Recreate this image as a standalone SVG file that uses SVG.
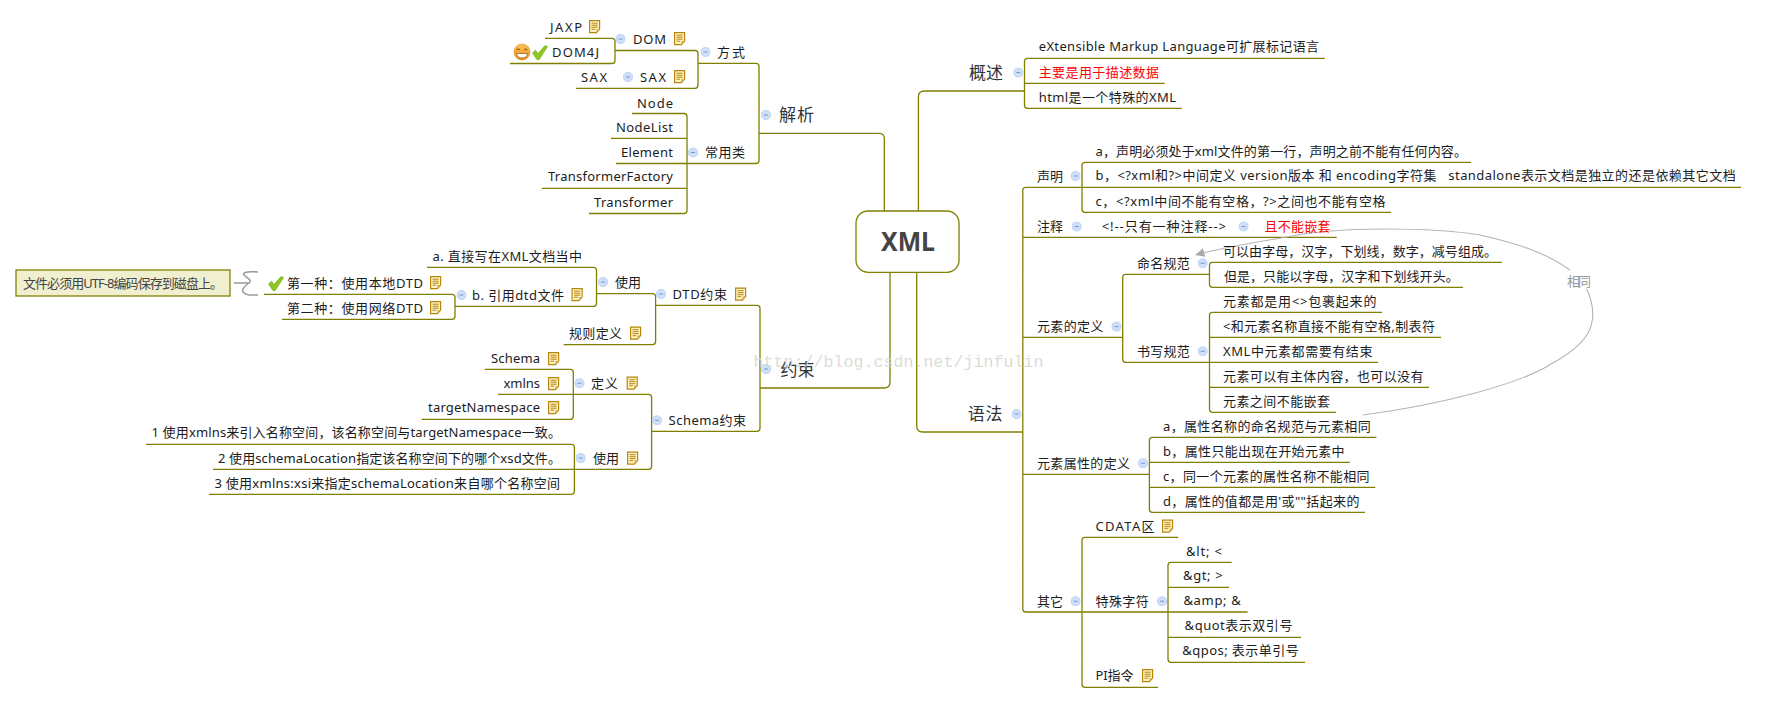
<svg xmlns="http://www.w3.org/2000/svg" width="1779" height="703" viewBox="0 0 1779 703">
<style>
text{font-family:"Noto Sans","Noto Sans CJK SC",sans-serif;font-size:13px;fill:#1c1c1c}
.b{font-size:17px;fill:#333}
.r{fill:#f00}
.root{font-size:27px;font-weight:bold;fill:#444}
.mark{font-family:"Liberation Mono",monospace;font-size:16.5px;fill:#d6d6d0;fill-opacity:.85}
.lab{fill:#999;font-size:13px}
.nt{fill:#444}
.c{fill:none;stroke:#808000;stroke-width:1.3}
.rel{fill:none;stroke:#b4b4b4;stroke-width:1.1}
</style>
<defs>
<symbol id="note" width="12" height="14" viewBox="0 0 12 14" overflow="visible"><path d="M.6.6H10.6V9L7.4 12.6H.6Z" fill="#fdf3c8" stroke="#b8860b" stroke-width="1.2"/><path d="M2.5 3.2H8.7M2.5 5.2H8.7M2.5 7.2H8.7M2.5 9.2H6.2" stroke="#b8860b" stroke-width="1"/><path d="M7.4 12.6V9H10.6Z" fill="#d9b44a"/></symbol>
<symbol id="col" width="10" height="10" viewBox="0 0 10 10"><circle cx="5" cy="5" r="4.7" fill="#cddffa" stroke="#b0c8ef" stroke-width=".7"/><path d="M3 5H7" stroke="#7a96c8"/></symbol>
<symbol id="chk" width="16" height="15" viewBox="0 0 16 15"><path d="M.5 8L3.5 5.2L6 8.6L13 .6L15.6 1.6L7.2 14.5H5Z" fill="#8cc820" stroke="#6da512" stroke-width=".6"/></symbol>
<linearGradient id="sm" x1="0" y1="0" x2="0" y2="1"><stop offset="0" stop-color="#fbc35a"/><stop offset="1" stop-color="#ee8c1e"/></linearGradient>
<marker id="ah" markerUnits="userSpaceOnUse" markerWidth="10" markerHeight="9" refX="9" refY="4.5" orient="auto"><path d="M0 0L9 4.5L0 9Z" fill="#aaa"/></marker>
</defs>
<g id="connectors">
<path class="c" d="M545 38.3H612q3 0 3 3V60.5q0 3-3 3H510M615 50.5H695q3 0 3 3V85.3q0 3-3 3H576M698 63.3H756q3 0 3 3V160.5q0 3-3 3H616M632 113.5H684q3 0 3 3V210.5q0 3-3 3H589M611 138.3H687M542 188.3H687M759 133.3H879q5.300 0 5.300 5V211"/>
<path class="c" d="M427 267.3H593.5q3 0 3 3V303.3q0 3-3 3H455M264 294.3H452q3 0 3 3V316.3q0 3-3 3H282M596.500 293.600H652.600q3 0 3 3V341.600q0 3-3 3H563.600M655.600 305.300H757q3 0 3 3V428.300q0 3-3 3H651.600M760 388H884q6 0 6-6V272.300M498 394.300H648.600q3 0 3 3V466.300q0 3-3 3H213M484.700 369.300H570.300q3 0 3 3V416.300q0 3-3 3H421.700M146 444.300H571.400q3 0 3 3V491.300q0 3-3 3H209"/>
<path class="c" d="M918.400 211V97q0-6 6-6H1024.500M1324.800 58.300H1027.500q-3 0-3 3V105.300q0 3 3 3H1181.700M1024.500 83.300H1164.700M916.700 272.300V426q0 6 6 6H1022.800M1741 187.300H1025.800q-3 0-3 3V609q0 3 3 3H1247.600M1022.800 237.300H1336.700M1022.800 337.300H1122.700M1022.800 474.300H1149.400M1471 162.300H1085q-3 0-3 3V209.300q0 3 3 3H1391M1209.500 274.300H1125.700q-3 0-3 3V359.300q0 3 3 3H1378M1502 262.300H1212.500q-3 0-3 3V284.300q0 3 3 3H1463M1382 312.300H1212.500q-3 0-3 3V409.300q0 3 3 3H1336M1209.500 337.300H1441M1209.500 387.300H1429M1376.400 437.300H1152.400q-3 0-3 3V509.300q0 3 3 3H1365M1149.400 462.300H1350M1149.400 487.300H1375.300M1178.300 537.300H1085q-3 0-3 3V684.300q0 3 3 3H1158M1231.700 562.300H1171q-3 0-3 3V659.300q0 3 3 3H1305M1168 587.300H1229M1168 637.300H1301"/>
<path class="rel" d="M1570 270C1545 252 1515 243 1480 235C1450 230 1415 229 1384 229C1350 229 1310 232 1281 238C1250 243 1220 248 1195.500 255" marker-end="url(#ah)"/>
<path class="rel" d="M1363 415C1440 405 1520 384 1551 364C1566 356 1580 347 1588 333C1595 320 1594 305 1586.700 289"/>
<path d="M234 283H249M258 272C245 271 241 273 245 276C249 279 252 281 249 283C246 285 240 290 244 293C247 296 252 295 258 295" fill="none" stroke="#999" stroke-width="1.500"/>
</g>
<g id="root"><rect x="856" y="211" width="103" height="61.300" rx="12" fill="#fff" stroke="#808000" stroke-width="1.300"/><text class="root" x="881" y="251" textLength="54" lengthAdjust="spacingAndGlyphs">XML</text></g>
<g id="n-parse"><text class="b" x="779" y="121" textLength="35">解析</text><use href="#col" x="761" y="110"/></g>
<g id="n-way"><text x="717" y="57" textLength="28">方式</text><use href="#col" x="700.500" y="47"/></g>
<g id="n-dom"><text x="633" y="44" textLength="33">DOM</text><use href="#col" x="615.500" y="34"/><use href="#note" x="674" y="32"/></g>
<g id="n-jaxp"><text x="550" y="32" textLength="32">JAXP</text><use href="#note" x="589" y="20"/></g>
<g id="n-dom4j"><circle cx="522" cy="52" r="8" fill="url(#sm)" stroke="#e08a1e" stroke-width=".6"/><path d="M516.500 50q2-2.500 3.500 0M524 50q2-2.500 3.500 0" fill="none" stroke="#8a4a00"/><path d="M516.500 53.500H527.500Q526.500 58 522 58Q517.500 58 516.500 53.500Z" fill="#fff" stroke="#8a4a00" stroke-width=".6"/><use href="#chk" x="532" y="45"/><text x="552" y="57" textLength="47">DOM4J</text></g>
<g id="n-sax"><text x="640" y="82" textLength="26">SAX</text><use href="#col" x="623" y="72"/><use href="#note" x="674" y="70"/></g>
<g id="n-sax2"><text x="581" y="82" textLength="26">SAX</text></g>
<g id="n-class"><text x="705" y="157" textLength="40">常用类</text><use href="#col" x="688" y="147.500"/></g>
<g id="n-node"><text x="637" y="107.500" textLength="36">Node</text></g>
<g id="n-nodelist"><text x="616" y="132" textLength="57">NodeList</text></g>
<g id="n-element"><text x="621" y="157" textLength="52">Element</text></g>
<g id="n-tf"><text x="548" y="181" textLength="125">TransformerFactory</text></g>
<g id="n-t"><text x="594" y="207" textLength="79">Transformer</text></g>
<g id="n-constraint"><text class="b" x="780.500" y="375.500" textLength="34">约束</text><use href="#col" x="761" y="364"/></g>
<g id="n-dtd"><text x="672.600" y="298.500" textLength="54.400">DTD约束</text><use href="#col" x="656" y="289"/><use href="#note" x="735" y="287.500"/></g>
<g id="n-use"><text x="615" y="286.500" textLength="26">使用</text><use href="#col" x="598" y="277"/></g>
<g id="n-a"><text x="432.500" y="260.500" textLength="149.500">a. 直接写在XML文档当中</text></g>
<g id="n-b"><text x="472" y="299.500" textLength="92">b. 引用dtd文件</text><use href="#col" x="456.500" y="290"/><use href="#note" x="571.500" y="288"/></g>
<g id="n-first"><use href="#chk" x="268" y="276"/><text x="287" y="287.500" textLength="136">第一种：使用本地DTD</text><use href="#note" x="430" y="276"/></g>
<g id="n-second"><text x="287" y="312.500" textLength="136">第二种：使用网络DTD</text><use href="#note" x="430" y="301"/></g>
<g id="n-callout"><rect x="16" y="270" width="214" height="26" fill="#f0f0d0" stroke="#808000" stroke-width="1.300"/><text class="nt" x="23" y="287.500" textLength="200">文件必须用UTF-8编码保存到磁盘上。</text></g>
<g id="n-rule"><text x="569" y="337.500" textLength="53">规则定义</text><use href="#note" x="630" y="326.500"/></g>
<g id="n-schema"><text x="668.600" y="424.800" textLength="77.400">Schema约束</text><use href="#col" x="652" y="415.300"/></g>
<g id="n-def"><text x="591" y="387.800" textLength="27">定义</text><use href="#col" x="574.500" y="378.300"/><use href="#note" x="626.600" y="376.500"/></g>
<g id="n-sch"><text x="491" y="363" textLength="49">Schema</text><use href="#note" x="548" y="352"/></g>
<g id="n-xmlns"><text x="503.500" y="388" textLength="36.500">xmlns</text><use href="#note" x="548" y="377"/></g>
<g id="n-tns"><text x="428" y="411.800" textLength="112">targetNamespace</text><use href="#note" x="548" y="401"/></g>
<g id="n-use2"><text x="593" y="462.500" textLength="26">使用</text><use href="#col" x="575.600" y="453"/><use href="#note" x="627" y="451.500"/></g>
<g id="n-1"><text x="151.500" y="436.800" textLength="409.500">1 使用xmlns来引入名称空间，该名称空间与targetNamespace一致。</text></g>
<g id="n-2"><text x="218" y="462.500" textLength="343">2 使用schemaLocation指定该名称空间下的哪个xsd文件。</text></g>
<g id="n-3"><text x="214.500" y="487.500" textLength="345.500">3 使用xmlns:xsi来指定schemaLocation来自哪个名称空间</text></g>
<g id="n-over"><text class="b" x="969" y="78.500" textLength="34">概述</text><use href="#col" x="1013.300" y="67.600"/></g>
<g id="n-over1"><text x="1038.700" y="51" textLength="280.300">eXtensible Markup Language可扩展标记语言</text></g>
<g id="n-over2"><text class="r" x="1038.700" y="76.800" textLength="120.300">主要是用于描述数据</text></g>
<g id="n-over3"><text x="1038.700" y="101.500" textLength="137.300">html是一个特殊的XML</text></g>
<g id="n-syntax"><text class="b" x="967.800" y="420" textLength="34.600">语法</text><use href="#col" x="1011.600" y="409"/></g>
<g id="n-decl"><text x="1037" y="180.500" textLength="26">声明</text><use href="#col" x="1070.600" y="171"/></g>
<g id="n-da"><text x="1095.500" y="156" textLength="371.500">a，声明必须处于xml文件的第一行，声明之前不能有任何内容。</text></g>
<g id="n-db"><text x="1095.500" y="180" textLength="640.200" xml:space="preserve">b，&lt;?xml和?&gt;中间定义 version版本 和 encoding字符集   standalone表示文档是独立的还是依赖其它文档</text></g>
<g id="n-dc"><text x="1095.500" y="205.800" textLength="290">c，&lt;?xml中间不能有空格，?&gt;之间也不能有空格</text></g>
<g id="n-comment"><text x="1037" y="231" textLength="26">注释</text><use href="#col" x="1071.700" y="221.600"/></g>
<g id="n-cm1"><text x="1101.700" y="231" textLength="124.300">&lt;!--只有一种注释--&gt;</text><use href="#col" x="1238.600" y="221.600"/></g>
<g id="n-cm2"><text class="r" x="1264.600" y="231" textLength="65.900">且不能嵌套</text></g>
<g id="n-elem"><text x="1037" y="331" textLength="66.400">元素的定义</text><use href="#col" x="1111.500" y="321.600"/></g>
<g id="n-naming"><text x="1137" y="267.800" textLength="52.700">命名规范</text><use href="#col" x="1197.700" y="258.300"/></g>
<g id="n-n1"><text x="1223" y="256" textLength="274">可以由字母，汉字，下划线，数字，减号组成。</text></g>
<g id="n-n2"><text x="1224" y="280.800" textLength="234.700">但是，只能以字母，汉字和下划线开头。</text></g>
<g id="n-writing"><text x="1137" y="355.800" textLength="52.700">书写规范</text><use href="#col" x="1197.700" y="346.300"/></g>
<g id="n-w1"><text x="1223" y="305.800" textLength="153.400">元素都是用&lt;&gt;包裹起来的</text></g>
<g id="n-w2"><text x="1223" y="330.500" textLength="212">&lt;和元素名称直接不能有空格,制表符</text></g>
<g id="n-w3"><text x="1223" y="355.800" textLength="149.400">XML中元素都需要有结束</text></g>
<g id="n-w4"><text x="1223" y="380.500" textLength="200.500">元素可以有主体内容，也可以没有</text></g>
<g id="n-w5"><text x="1223" y="405.800" textLength="107">元素之间不能嵌套</text></g>
<g id="n-attr"><text x="1037" y="467.800" textLength="93">元素属性的定义</text><use href="#col" x="1138" y="458.300"/></g>
<g id="n-a1"><text x="1163" y="430.800" textLength="207.700">a，属性名称的命名规范与元素相同</text></g>
<g id="n-a2"><text x="1163" y="455.500" textLength="181.600">b，属性只能出现在开始元素中</text></g>
<g id="n-a3"><text x="1163" y="480.800" textLength="206.600">c，同一个元素的属性名称不能相同</text></g>
<g id="n-a4"><text x="1163" y="505.800" textLength="196.400">d，属性的值都是用'或""括起来的</text></g>
<g id="n-other"><text x="1037" y="605.800" textLength="26">其它</text><use href="#col" x="1070.600" y="596.300"/></g>
<g id="n-cdata"><text x="1095.500" y="530.500" textLength="59">CDATA区</text><use href="#note" x="1162" y="519.500"/></g>
<g id="n-special"><text x="1095.500" y="605.800" textLength="53.300">特殊字符</text><use href="#col" x="1157" y="596.300"/></g>
<g id="n-s1"><text x="1186" y="555.500" textLength="36">&amp;lt; &lt;</text></g>
<g id="n-s2"><text x="1183" y="579.800" textLength="39.600">&amp;gt; &gt;</text></g>
<g id="n-s3"><text x="1183.400" y="604.800" textLength="57.400">&amp;amp; &amp;</text></g>
<g id="n-s4"><text x="1184.600" y="630" textLength="107.800">&amp;quot表示双引号</text></g>
<g id="n-s5"><text x="1182.300" y="655" textLength="116.400">&amp;qpos; 表示单引号</text></g>
<g id="n-pi"><text x="1095.500" y="680" textLength="38">PI指令</text><use href="#note" x="1142" y="669"/></g>
<g id="rel-label"><text class="lab" x="1567" y="285.500" textLength="24">相同</text></g>
<text class="mark" x="753.500" y="367" textLength="290">http://blog.csdn.net/jinfulin</text>
</svg>
